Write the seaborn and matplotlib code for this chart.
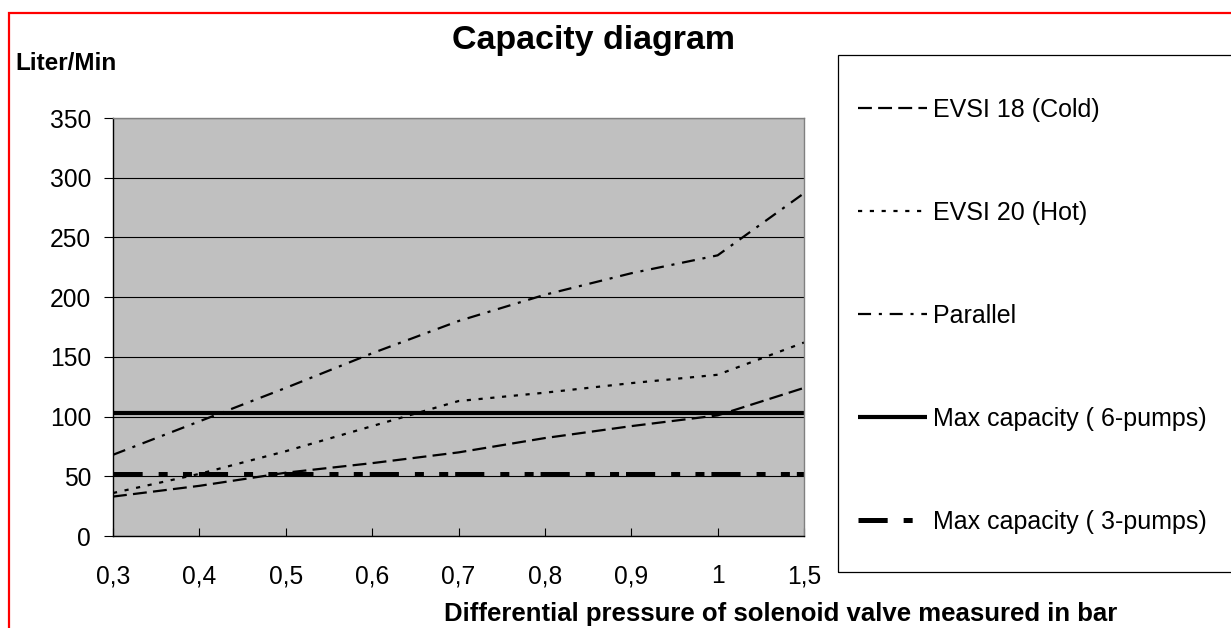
import matplotlib
matplotlib.use("Agg")
import matplotlib.pyplot as plt
from matplotlib.patches import Rectangle
import seaborn as sns
import pandas as pd

plt.rcParams['font.family'] = ['Liberation Sans', 'DejaVu Sans']
plt.rcParams['lines.scale_dashes'] = False

# ---- data ----
pressure_labels = ["0,3", "0,4", "0,5", "0,6", "0,7", "0,8", "0,9", "1", "1,5"]
evsi18_cold = [33, 42, 53, 61, 70, 82, 92, 101, 124]
evsi20_hot = [36, 52, 71, 92, 113, 120, 128, 135, 162]
parallel = [68, 96, 124, 153, 180, 202, 220, 235, 287]
max_6_pumps = [103, 103, 103, 103, 103, 103, 103, 103, 103]
max_3_pumps = [52, 52, 52, 52, 52, 52, 52, 52, 52]
y_ticks = [0, 50, 100, 150, 200, 250, 300, 350]

series_names = ["EVSI 18 (Cold)", "EVSI 20 (Hot)", "Parallel",
                "Max capacity ( 6-pumps)", "Max capacity ( 3-pumps)"]
series_values = [evsi18_cold, evsi20_hot, parallel, max_6_pumps, max_3_pumps]

rows = []
for name, vals in zip(series_names, series_values):
    for i, v in enumerate(vals):
        rows.append({"series": name, "pos": i, "value": v})
df = pd.DataFrame(rows)

# styles (points)
styles = {
    "EVSI 18 (Cold)": dict(lw=1.6, dashes=(10, 4.5)),
    "EVSI 20 (Hot)": dict(lw=1.6, dashes=(3, 5.5)),
    "Parallel": dict(lw=1.6, dashes=(9.4, 5.6, 2.2, 5.6)),
    "Max capacity ( 6-pumps)": dict(lw=3.0, dashes=None),
    "Max capacity ( 3-pumps)": dict(lw=3.6, dashes=(21, 11.5, 6.5, 11, 6.5, 5)),
}

W, H = 1231, 628
fig = plt.figure(figsize=(W / 100, H / 100), dpi=100)
ax = fig.add_axes([113 / W, 1 - 536 / H, (804 - 113) / W, (536 - 118) / H])
ax.set_facecolor('#C0C0C0')

handles = []
for name in series_names:
    sub = df[df["series"] == name]
    sns.lineplot(data=sub, x="pos", y="value", ax=ax, color='black',
                 legend=False, estimator=None, sort=False)
    line = ax.lines[-1]
    st = styles[name]
    line.set_linewidth(st["lw"])
    line.set_solid_capstyle('butt')
    if st["dashes"] is not None:
        line.set_dashes(st["dashes"])
    line.set_dash_capstyle('butt')
    line.set_label(name)
    handles.append(line)

ax.set_xlim(0, len(pressure_labels) - 1)
ax.set_ylim(0, 350)
ax.set_xticks(range(len(pressure_labels)))
ax.set_xticklabels(pressure_labels)
ax.set_yticks(y_ticks)
ax.set_yticklabels([str(t) for t in y_ticks])
ax.set_xlabel("")
ax.set_ylabel("")
ax.yaxis.grid(True, color='black', lw=0.8)
ax.xaxis.grid(False)
ax.set_axisbelow(True)

for s in ['left', 'bottom']:
    ax.spines[s].set_color('black')
    ax.spines[s].set_linewidth(1.0)
for s in ['top', 'right']:
    ax.spines[s].set_color('#808080')
    ax.spines[s].set_linewidth(1.0)

ax.tick_params(axis='y', direction='out', length=6.5, width=0.8, pad=9.4,
               labelsize=17.7, colors='black')
ax.tick_params(axis='x', direction='in', length=6, width=0.8, pad=20.5,
               labelsize=17.7, colors='black')

# texts
fig.text(594 / W, 1 - 49 / H, "Capacity diagram", ha='center', va='baseline',
         fontsize=24.5, fontweight='bold')
fig.text(15 / W, 1 - 70 / H, "Liter/Min", ha='left', va='baseline',
         fontsize=17.5, fontweight='bold')
fig.text(781 / W, 1 - 621 / H,
         "Differential pressure of solenoid valve measured in bar",
         ha='center', va='baseline', fontsize=18.5, fontweight='bold')

# legend frame and legend
fig.patches.append(Rectangle((838 / W, 1 - 572 / H), 0.5, (572 - 55) / H,
                             transform=fig.transFigure, fill=False,
                             edgecolor='black', lw=0.9))
fig.legend(handles, series_names, loc='upper left',
           bbox_to_anchor=(858 / W, 1 - 98 / H), frameon=False,
           borderpad=0, borderaxespad=0, handlelength=2.76,
           handletextpad=0.24, labelspacing=3.16, fontsize=18)

# red outer border
fig.patches.append(Rectangle((8.5 / W, -0.2), 1.5, 1.2 - 12.5 / H,
                             transform=fig.transFigure, fill=False,
                             edgecolor='#FF0000', lw=1.6))

fig.savefig("out.png", dpi=100)
